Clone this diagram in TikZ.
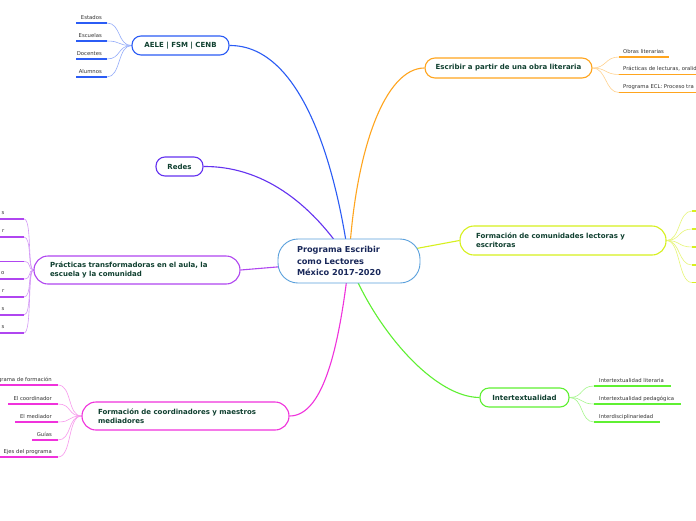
\documentclass[tikz,border=0pt]{standalone}
\usepackage{fontspec}
\setmainfont{DejaVu Sans}
\usetikzlibrary{calc}
\definecolor{cblue}{RGB}{43,92,245}
\definecolor{cviolet}{RGB}{100,50,240}
\definecolor{corange}{RGB}{255,165,30}
\definecolor{cyellow}{RGB}{215,240,30}
\definecolor{cpurple}{RGB}{176,70,240}
\definecolor{cmagenta}{RGB}{240,50,220}
\definecolor{cgreen}{RGB}{95,240,50}
\definecolor{ccentral}{RGB}{90,160,220}
\definecolor{ntext}{RGB}{16,64,48}
\definecolor{ctext}{RGB}{25,40,90}
\definecolor{ltext}{RGB}{50,50,50}
\pgfdeclarelayer{bg}
\pgfdeclarelayer{edges}
\pgfsetlayers{bg,edges,main}
\tikzset{
  branch/.style={draw, line width=1.1pt, fill=white, rounded corners=9pt,
    font=\fontsize{7}{9}\selectfont\bfseries, text=ntext, inner sep=0pt},
  wide/.style={rounded corners=14pt, align=left, inner xsep=16pt},
  leaf/.style={font=\fontsize{5.3}{6}\selectfont, text=ltext, inner sep=0pt},
  uline/.style={line width=1.8pt},
  mainline/.style={line width=1.1pt},
  twig/.style={line width=0.6pt},
}
\begin{document}
\begin{tikzpicture}[x=1pt,y=-1pt]
\begin{pgfonlayer}{bg}
\fill[white] (0,0) rectangle (696,520);
\end{pgfonlayer}
\useasboundingbox (0,0) rectangle (696,520);

% central
\node[branch, draw=ccentral, line width=0.9pt, rounded corners=20pt, minimum width=142pt,
  minimum height=44pt, text width=104pt, align=left, inner xsep=19pt,
  font=\fontsize{8.2}{11.5}\selectfont\bfseries, text=ctext] (c) at (349,261)
  {Programa Escribir\\como Lectores\\México 2017-2020};

% branches
\node[branch, draw=cblue, minimum width=97pt, minimum height=19pt] (aele) at (180.5,45.5) {AELE | FSM | CENB};
\node[branch, draw=cviolet, minimum width=47pt, minimum height=19pt] (redes) at (179.5,166.5) {Redes};
\node[branch, draw=corange, minimum width=167pt, minimum height=20pt, rounded corners=10pt] (escr) at (508.5,68) {Escribir a partir de una obra literaria};
\node[branch, wide, draw=cyellow, minimum height=29pt, text width=174pt] (comm) at (563,240.5) {Formación de comunidades lectoras y\\escritoras};
\node[branch, wide, draw=cpurple, minimum height=28pt, text width=174pt] (prac) at (137,270) {Prácticas transformadoras en el aula, la\\escuela y la comunidad};
\node[branch, wide, draw=cmagenta, minimum height=28pt, text width=175pt] (coord) at (185.5,416) {Formación de coordinadores y maestros\\mediadores};
\node[branch, draw=cgreen, minimum width=89pt, minimum height=19pt] (inter) at (524.5,397.5) {Intertextualidad};

% AELE leaves
\node[leaf, anchor=base east] (a1) at (102,19) {Estados};
\node[leaf, anchor=base east] (a2) at (102,37) {Escuelas};
\node[leaf, anchor=base east] (a3) at (102,55) {Docentes};
\node[leaf, anchor=base east] (a4) at (102,73) {Alumnos};
\draw[uline,cblue] (76,23) -- (107,23) coordinate (ua1);
\draw[uline,cblue] (76,41) -- (107,41) coordinate (ua2);
\draw[uline,cblue] (76,59) -- (107,59) coordinate (ua3);
\draw[uline,cblue] (76,77) -- (107,77) coordinate (ua4);

% Escribir leaves
\node[leaf, anchor=base west] (e1) at (623,53) {Obras literarias};
\node[leaf, anchor=base west] (e2) at (623,70.5) {Prácticas de lecturas, oralid};
\node[leaf, anchor=base west] (e3) at (623,88.5) {Programa ECL: Proceso tra};
\draw[uline,corange] (619,57) coordinate (ue1) -- (669,57);
\draw[uline,corange] (619,74.5) coordinate (ue2) -- (700,74.5);
\draw[uline,corange] (619,92.5) coordinate (ue3) -- (700,92.5);

% Comunidades leaves (off page)
\draw[uline,cyellow] (692,211) coordinate (uc1) -- (700,211);
\draw[uline,cyellow] (692,229) coordinate (uc2) -- (700,229);
\draw[uline,cyellow] (692,247) coordinate (uc3) -- (700,247);
\draw[uline,cyellow] (692,265) coordinate (uc4) -- (700,265);
\draw[uline,cyellow] (692,282.5) coordinate (uc5) -- (700,282.5);

% Practicas leaves
\node[leaf, anchor=base east] (p1) at (4.5,214.5) {s};
\node[leaf, anchor=base east] (p2) at (4.5,232.5) {r};
\node[leaf, anchor=base east] (p4) at (4.5,274.5) {o};
\node[leaf, anchor=base east] (p5) at (4.5,292.5) {r};
\node[leaf, anchor=base east] (p6) at (4.5,310.5) {s};
\node[leaf, anchor=base east] (p7) at (4.5,328.5) {s};
\draw[uline,cpurple] (-5,219) -- (24,219) coordinate (up1);
\draw[uline,cpurple] (-5,237) -- (24,237) coordinate (up2);
\draw[uline,cpurple] (-5,261.5) -- (24,261.5) coordinate (up3);
\draw[uline,cpurple] (-5,279) -- (24,279) coordinate (up4);
\draw[uline,cpurple] (-5,297) -- (24,297) coordinate (up5);
\draw[uline,cpurple] (-5,315) -- (24,315) coordinate (up6);
\draw[uline,cpurple] (-5,333) -- (24,333) coordinate (up7);

% Coordinadores leaves
\node[leaf, anchor=base east] (k1) at (52,381) {Programa de formación};
\node[leaf, anchor=base east] (k2) at (52,400) {El coordinador};
\node[leaf, anchor=base east] (k3) at (52,418) {El mediador};
\node[leaf, anchor=base east] (k4) at (52,436) {Guías};
\node[leaf, anchor=base east] (k5) at (52,453) {Ejes del programa};
\draw[uline,cmagenta] (-5,385) -- (58,385) coordinate (uk1);
\draw[uline,cmagenta] (8,404) -- (58,404) coordinate (uk2);
\draw[uline,cmagenta] (15,422) -- (58,422) coordinate (uk3);
\draw[uline,cmagenta] (32,440) -- (58,440) coordinate (uk4);
\draw[uline,cmagenta] (-5,457) -- (58,457) coordinate (uk5);

% Intertextualidad leaves
\node[leaf, anchor=base west] (i1) at (599,382) {Intertextualidad literaria};
\node[leaf, anchor=base west] (i2) at (599,400) {Intertextualidad pedagógica};
\node[leaf, anchor=base west] (i3) at (599,418) {Interdisciplinariedad};
\draw[uline,cgreen] (594,386) coordinate (ui1) -- (671,386);
\draw[uline,cgreen] (594,404) coordinate (ui2) -- (681,404);
\draw[uline,cgreen] (594,422) coordinate (ui3) -- (660,422);

\begin{pgfonlayer}{edges}
% main connectors
\draw[mainline,cblue] (aele.east) .. controls (300,45) and (335,160) .. (c.center);
\draw[mainline,cviolet] (redes.east) .. controls (260,166) and (310,200) .. (c.center);
\draw[mainline,corange] (escr.west) .. controls (385,68) and (355,150) .. (c.center);
\draw[mainline,cyellow] (comm.west) -- (c.center);
\draw[mainline,cpurple] (prac.east) -- (c.center);
\draw[mainline,cmagenta] (coord.east) .. controls (325,416) and (340,340) .. (c.center);
\draw[mainline,cgreen] (inter.west) .. controls (430,397) and (370,320) .. (c.center);

% twigs
\foreach \u in {ua1,ua2,ua3,ua4}
  \draw[twig,cblue!50!white] (aele.west) .. controls ($(aele.west)+(-14,0)$) and ($(\u)+(14,0)$) .. (\u);
\foreach \u in {ue1,ue2,ue3}
  \draw[twig,corange!50!white] (escr.east) .. controls ($(escr.east)+(14,0)$) and ($(\u)+(-14,0)$) .. (\u);
\foreach \u in {uc1,uc2,uc3,uc4,uc5}
  \draw[twig,cyellow!60!white] (comm.east) .. controls ($(comm.east)+(14,0)$) and ($(\u)+(-14,0)$) .. (\u);
\foreach \u in {up1,up2,up3,up4,up5,up6,up7}
  \draw[twig,cpurple!55!white] (prac.west) .. controls ($(prac.west)+(-6,0)$) and ($(\u)+(8,0)$) .. (\u);
\foreach \u in {uk1,uk2,uk3,uk4,uk5}
  \draw[twig,cmagenta!50!white] (coord.west) .. controls ($(coord.west)+(-14,0)$) and ($(\u)+(14,0)$) .. (\u);
\foreach \u in {ui1,ui2,ui3}
  \draw[twig,cgreen!55!white] (inter.east) .. controls ($(inter.east)+(14,0)$) and ($(\u)+(-14,0)$) .. (\u);
\end{pgfonlayer}
\end{tikzpicture}
\end{document}
